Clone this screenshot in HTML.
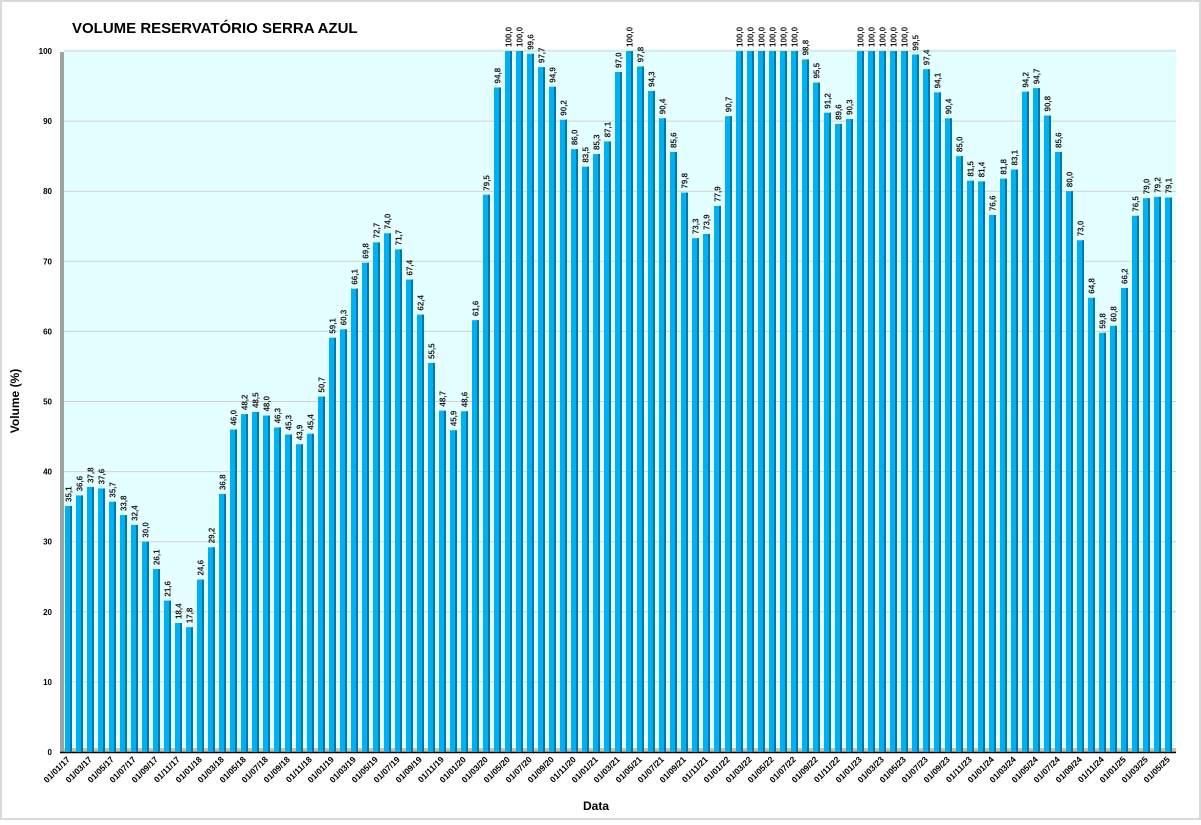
<!DOCTYPE html>
<html><head><meta charset="utf-8"><style>
body{margin:0;background:#fff;font-family:"Liberation Sans",sans-serif}
svg text{font-family:"Liberation Sans",sans-serif}
</style></head><body>
<svg id="chart" width="1201" height="820">
<rect x="1" y="1" width="1199" height="818" fill="#fff" stroke="#d9d9d9" stroke-width="2"/>
<text x="72" y="33" font-size="15" font-weight="bold" fill="#000">VOLUME RESERVATÓRIO SERRA AZUL</text>
<text transform="translate(19,401) rotate(-90)" text-anchor="middle" font-size="12" font-weight="bold">Volume (%)</text>
<text x="596" y="810" text-anchor="middle" font-size="12" font-weight="bold">Data</text>
<g id="plot"></g>
</svg>
<script>
const values=[35.1,36.6,37.8,37.6,35.7,33.8,32.4,30.0,26.1,21.6,18.4,17.8,
24.6,29.2,36.8,46.0,48.2,48.5,48.0,46.3,45.3,43.9,45.4,50.7,
59.1,60.3,66.1,69.8,72.7,74.0,71.7,67.4,62.4,55.5,48.7,45.9,
48.6,61.6,79.5,94.8,100,100,99.6,97.7,94.9,90.2,86.0,83.5,
85.3,87.1,97.0,100,97.8,94.3,90.4,85.6,79.8,73.3,73.9,77.9,
90.7,100,100,100,100,100,100,98.8,95.5,91.2,89.6,90.3,
100,100,100,100,100,99.5,97.4,94.1,90.4,85.0,81.5,81.4,
76.6,81.8,83.1,94.2,94.7,90.8,85.6,80.0,73.0,64.8,59.8,60.8,
66.2,76.5,79.0,79.2,79.1];
const startYear=17;
const yTicks=[0,10,20,30,40,50,60,70,80,90,100];
const NS='http://www.w3.org/2000/svg';
const g=document.getElementById('plot');
const X0=65,PITCH=11.0,BW=7,Y0=752,Y100=51;
const xs=i=>X0+i*PITCH;
const ys=v=>Y0-(Y0-Y100)*v/100;
function mk(t,a){const e=document.createElementNS(NS,t);for(const k in a)e.setAttribute(k,a[k]);g.appendChild(e);return e;}
let e;
e=mk('rect',{x:64,y:49,width:1112,height:703,fill:'#e4ffff'});


e=mk('rect',{x:60,y:52,width:4,height:700,fill:'#9aa5a5'});


e=mk('rect',{x:64,y:748,width:1112,height:4,fill:'#c8c4a8'});


yTicks.forEach(t=>{
 const y=ys(t);
 if(t>0){e=mk('line',{x1:64,x2:1176,y1:y,y2:y,stroke:'#d0d0d0','stroke-width':1});
 
 }
 e=mk('text',{x:52,y:y+3,'text-anchor':'end','font-size':8,'font-weight':'bold',fill:'#000'});
 e.textContent=t;
 
 
});
e=mk('line',{x1:60,x2:1176,y1:752.5,y2:752.5,stroke:'#000','stroke-width':1.5});


values.forEach((v,i)=>{
 const x=xs(i),y=ys(v);
 e=mk('rect',{x:x,y:y,width:BW,height:Y0-y,fill:'#00b0f0'});
 
 
 e=mk('rect',{x:x+BW-2,y:y,width:2,height:Y0-y,fill:'#0079a8'});
 
 
 const tx=x+BW/2+3,ty=y-4;
 e=mk('text',{transform:`translate(${tx},${ty}) rotate(-90)`,'font-size':8,'font-weight':'bold',fill:'#1a1a1a'});
 e.textContent=(v===100?'100,0':v.toFixed(1).replace('.',','));
 
 
 if(i%2===0){
  const m=(i%12)+1,yr=startYear+Math.floor(i/12);
  const lab='01/'+String(m).padStart(2,'0')+'/'+yr;
  const lx=x+BW/2+2,ly=760;
  e=mk('text',{transform:`translate(${lx},${ly}) rotate(-45)`,'text-anchor':'end','font-size':8.5,'font-weight':'bold',fill:'#000'});
  e.textContent=lab;
  
  
 }
});
</script>
</body></html>
